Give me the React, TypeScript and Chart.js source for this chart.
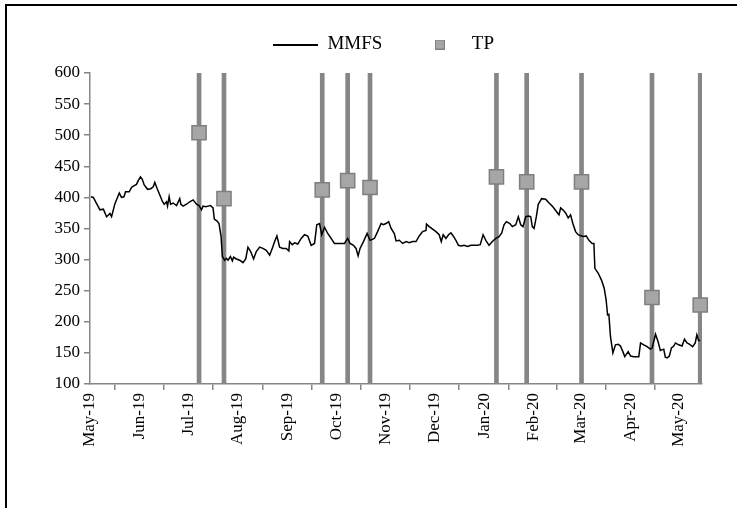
import { useEffect, useRef } from 'react';
import { Chart, registerables } from 'chart.js';

Chart.register(...registerables);

// x values are days since 2019-05-01
const monthTickDays = [0, 31, 61, 92, 123, 153, 184, 214, 245, 276, 305, 336, 366];
const monthTickLabels = ['May-19', 'Jun-19', 'Jul-19', 'Aug-19', 'Sep-19', 'Oct-19', 'Nov-19', 'Dec-19', 'Jan-20', 'Feb-20', 'Mar-20', 'Apr-20', 'May-20'];

const mmfsDays = [
  0.6, 2.1, 4.1, 6.2, 8.3, 10.3, 12.4, 13.4, 15.5, 18.2, 19.6, 21.1, 22.1, 24.4, 25.8, 27.5, 28.9, 30.0, 31.4, 32.5,
  33.7, 35.8, 37.8, 39.3, 40.3, 41.8, 43.4, 45.1, 46.1, 47.6, 48.2, 49.2, 50.1, 51.7, 53.8, 55.8, 56.5, 57.9, 60.0, 62.0,
  64.1, 66.2, 67.8, 69.3, 70.3, 72.0, 73.4, 74.9, 76.5, 77.3, 79.0, 80.2, 81.5, 82.3, 83.7, 84.8, 85.8, 87.3, 88.5, 89.3,
  91.0, 93.1, 95.1, 96.8, 98.2, 99.9, 101.7, 103.4, 105.5, 107.5, 109.6, 111.7, 113.3, 114.8, 116.2, 117.9, 119.9, 122.0, 123.6, 124.1,
  125.7, 127.2, 129.2,
  131.3, 133.4, 135.4, 137.5, 139.6, 141.0, 142.7, 144.1, 145.8, 147.8, 149.9, 152.0, 155.1, 158.2, 160.2, 161.7, 163.8, 165.4, 166.7, 167.9,
  170.0, 172.3, 174.1, 176.8, 178.8, 181.0, 182.4, 184.0, 185.7, 187.2, 189.2, 190.3, 192.3, 194.4, 196.5, 198.5, 200.6, 202.7, 204.7, 206.8,
  208.9, 209.2, 210.9, 213.0, 215.1, 217.1, 218.4, 219.6, 221.3, 222.9, 224.4, 225.8, 227.5, 229.1, 230.6, 232.6, 234.7, 236.8, 238.8, 240.9,
  242.6, 244.4, 246.1, 248.1, 250.2, 252.3, 254.3,
  256.0, 257.4, 258.9, 261.0, 262.6, 264.7, 266.3, 267.8, 269.2, 270.9, 272.5, 274.0, 275.0, 276.1, 277.5, 278.7, 280.8, 283.3, 285.4, 287.4,
  289.5, 291.6, 292.6, 294.0, 295.7, 297.3, 298.8, 300.2, 301.9, 303.5, 305.6, 307.1, 308.5, 310.2, 312.2, 313.3, 313.9, 316.0, 318.0, 319.7,
  320.9, 321.8, 322.6, 323.6, 325.1, 326.7, 328.4, 329.8, 331.3, 332.5, 334.6, 336.1, 338.1, 340.2, 341.2, 342.3, 344.3, 346.4, 348.4, 349.5,
  351.6, 353.2, 354.6, 356.7, 357.7, 358.8, 360.2, 361.5, 362.9, 364.0, 366.0, 368.1, 369.6, 371.2, 372.6, 374.7, 376.3, 377.3, 378.4, 379.4,
];

const mmfsValues = [
  401, 400, 390, 380, 381, 369, 374, 369, 390, 407, 400, 401, 409, 409, 416, 419, 421, 427, 433, 429,
  420, 413, 414, 417, 424, 414, 404, 393, 389, 393, 386, 401, 389, 391, 387, 398, 389, 386, 389, 393,
  396, 389, 387, 380, 386, 385, 386, 387, 383, 365, 362, 358, 337, 305, 299, 302, 299, 305, 298, 304,
  301, 299, 295, 301, 320, 313, 301, 313, 320, 318, 315, 307, 318, 329, 338, 320, 318, 318, 314, 329,
  324, 327, 325,
  334, 340, 338, 323, 326, 356, 358, 340, 352, 342, 334, 326, 326, 326, 334, 326, 323, 318, 306, 318,
  329, 342, 331, 334, 345, 358, 356, 358, 361, 350, 342, 330, 331, 326, 329, 327, 329, 329, 338, 345,
  347, 357, 353, 349, 345, 340, 329, 340, 334, 340, 343, 338, 331, 323, 322, 323, 321, 323, 323, 323,
  324, 340, 331, 323, 329, 334, 337,
  343, 356, 361, 358, 353, 356, 369, 356, 353, 369, 370, 369, 353, 350, 369, 389, 398, 397, 391, 386,
  379, 372, 383, 380, 375, 367, 372, 358, 345, 340, 338, 337, 338, 331, 326, 326, 286, 278, 267, 254,
  235, 211, 212, 176, 150, 163, 164, 161, 152, 144, 152, 145, 144, 144, 144, 166, 163, 160, 156, 158,
  180, 168, 154, 156, 143, 142, 145, 158, 161, 166, 163, 161, 172, 166, 164, 160, 166, 179, 170, 170,
];

const tpDays = [67.8, 83.3, 144.4, 160.2, 174.1, 252.7, 271.5, 305.6, 349.4, 379.4];
const tpValues = [504, 398, 412, 427, 416, 433, 425, 425, 239, 227];

const yMin = 100;
const yMax = 600;
const yStep = 50;
const xMin = 0;
const xMax = 380.5;

const FONT = '"Liberation Serif", "Times New Roman", serif';
const AXIS_GREY = '#868686';

const legendShift = {
  id: 'legendShift',
  afterLayout(chart: any) {
    if (chart.legend) chart.legend.left = 65;
  },
};

export default function App() {
  const ref = useRef<HTMLCanvasElement | null>(null);

  useEffect(() => {
    document.body.style.margin = '0';
    if (!ref.current) return;

    const lineIcon = document.createElement('canvas');
    lineIcon.width = 45;
    lineIcon.height = 2;
    const lctx = lineIcon.getContext('2d')!;
    lctx.fillStyle = '#000';
    lctx.fillRect(0, 0, 45, 2);

    const sqIcon = document.createElement('canvas');
    sqIcon.width = 10;
    sqIcon.height = 10;
    const sctx = sqIcon.getContext('2d')!;
    sctx.fillStyle = '#a6a6a6';
    sctx.fillRect(0, 0, 10, 10);
    sctx.strokeStyle = '#7f7f7f';
    sctx.lineWidth = 1;
    sctx.strokeRect(0.5, 0.5, 9, 9);

    const chart = new Chart(ref.current, {
      type: 'line',
      data: {
        datasets: [
          {
            type: 'line',
            label: 'MMFS',
            data: mmfsDays.map((d, i) => ({ x: d, y: mmfsValues[i] })),
            borderColor: '#000',
            borderWidth: 1.5,
            pointRadius: 0,
            pointHoverRadius: 0,
            tension: 0,
            fill: false,
            order: 1,
          },
          {
            type: 'scatter',
            label: 'TP',
            data: tpDays.map((d, i) => ({ x: d, y: tpValues[i] })),
            pointStyle: 'rect',
            pointRadius: 10,
            pointHoverRadius: 10,
            backgroundColor: '#a6a6a6',
            borderColor: '#7f7f7f',
            borderWidth: 1.5,
            clip: false,
            order: 0,
          },
          {
            type: 'bar',
            label: 'TP lines',
            data: tpDays.map((d) => ({ x: d, y: [yMin, yMax] })),
            backgroundColor: AXIS_GREY,
            barThickness: 4,
            order: 2,
          },
        ],
      } as any,
      options: {
        responsive: false,
        animation: false,
        layout: { padding: { left: 0, right: 35, top: 0, bottom: 0 } },
        plugins: {
          tooltip: { enabled: false },
          legend: {
            position: 'top',
            labels: {
              usePointStyle: true,
              pointStyleWidth: 45,
              padding: 35,
              color: '#000',
              font: { family: FONT, size: 19 },
              generateLabels: () => [
                { text: 'MMFS', pointStyle: lineIcon, fillStyle: '#000', strokeStyle: '#000', lineWidth: 1, hidden: false, datasetIndex: 0 },
                { text: 'TP', pointStyle: sqIcon, fillStyle: '#a6a6a6', strokeStyle: '#7f7f7f', lineWidth: 1, hidden: false, datasetIndex: 1 },
              ] as any,
            },
          },
        },
        scales: {
          x: {
            type: 'linear',
            min: xMin,
            max: xMax,
            offset: false,
            afterBuildTicks: (s: any) => {
              s.ticks = monthTickDays.map((v) => ({ value: v }));
            },
            afterFit: (s: any) => {
              s.height = 124;
            },
            ticks: {
              autoSkip: false,
              maxRotation: 90,
              minRotation: 90,
              padding: 3,
              color: '#000',
              font: { family: FONT, size: 17 },
              callback: (v: any) => {
                const i = monthTickDays.indexOf(Number(v));
                return i >= 0 ? monthTickLabels[i] : '';
              },
            },
            grid: { drawOnChartArea: false, drawTicks: true, tickLength: 6, color: AXIS_GREY, lineWidth: 1.5 },
            border: { color: AXIS_GREY, width: 1.5 },
          },
          xTop: {
            type: 'linear',
            position: 'top',
            min: 0,
            max: 1,
            grid: { display: false, drawTicks: false },
            border: { display: false },
            ticks: { display: false },
            afterFit: (s: any) => {
              s.height = 9;
            },
          },
          y: {
            min: yMin,
            max: yMax,
            afterFit: (s: any) => {
              s.width = 90;
            },
            ticks: {
              stepSize: yStep,
              padding: 4,
              color: '#000',
              font: { family: FONT, size: 17 },
            },
            grid: { drawOnChartArea: false, drawTicks: true, tickLength: 6, color: AXIS_GREY, lineWidth: 1.5 },
            border: { color: AXIS_GREY, width: 1.5 },
          },
        },
      } as any,
      plugins: [legendShift],
    });

    return () => chart.destroy();
  }, []);

  return (
    <div style={{ position: 'relative', width: 737, height: 508, overflow: 'hidden', background: '#fff' }}>
      <div
        style={{
          position: 'absolute',
          left: 5,
          top: 4,
          width: 800,
          height: 600,
          borderLeft: '2px solid #000',
          borderTop: '2px solid #000',
        }}
      />
      <canvas ref={ref} width={737} height={508} style={{ position: 'absolute', left: 0, top: 0 }} />
    </div>
  );
}
